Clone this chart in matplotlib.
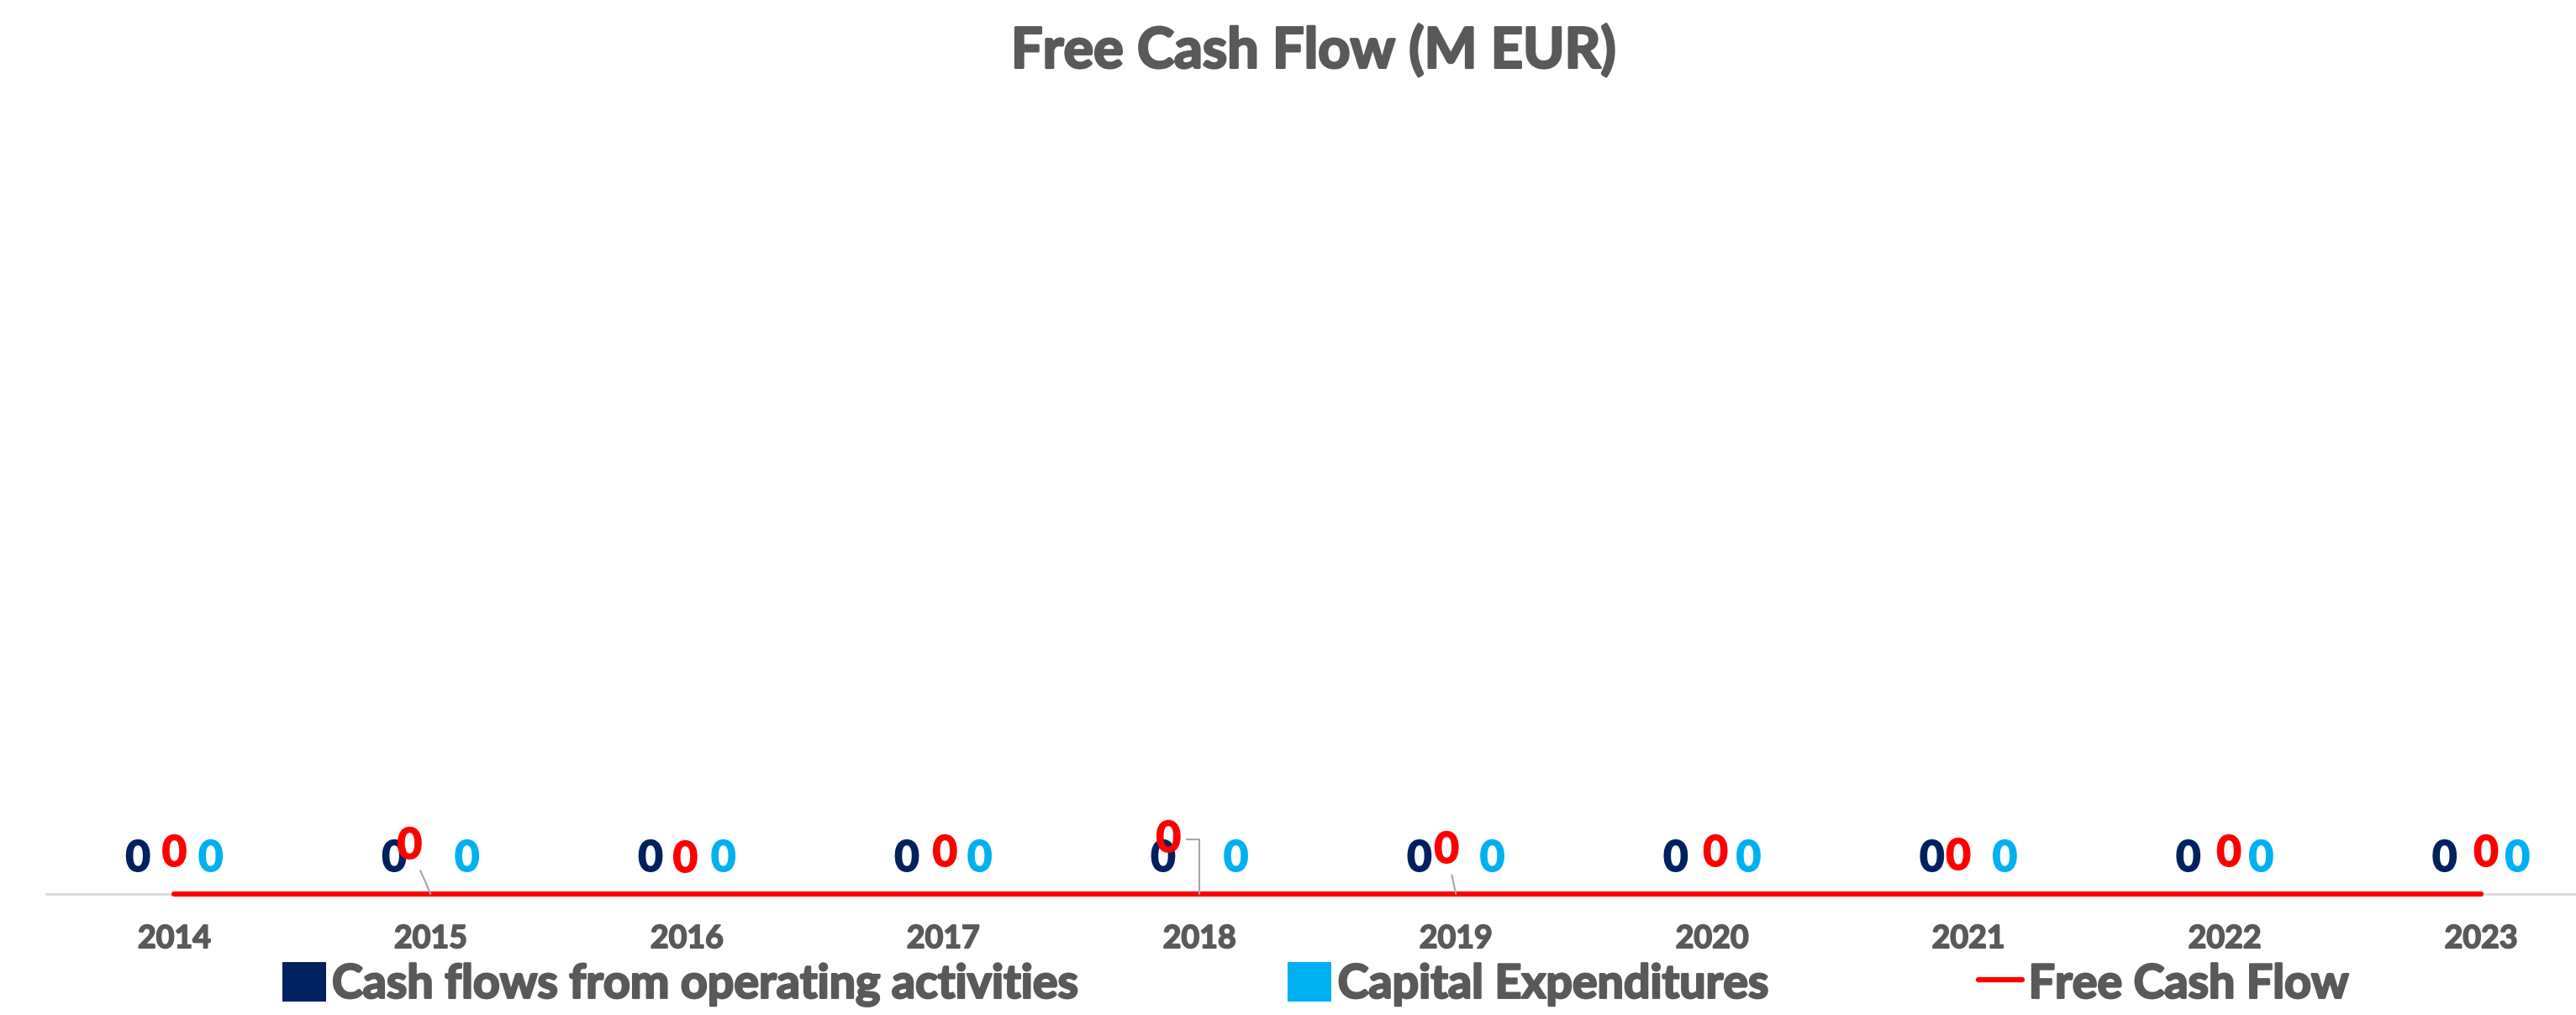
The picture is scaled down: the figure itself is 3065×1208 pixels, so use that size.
import numpy as np
import matplotlib
matplotlib.use('Agg')
import matplotlib.pyplot as plt
import matplotlib.patheffects as pe

plt.rcParams['font.family'] = ['Lato', 'DejaVu Sans']

# data (all values are zero in the source chart)
years = ['2014', '2015', '2016', '2017', '2018', '2019', '2020', '2021', '2022', '2023']
cfo = [0, 0, 0, 0, 0, 0, 0, 0, 0, 0]
capex = [0, 0, 0, 0, 0, 0, 0, 0, 0, 0]
fcf = [0, 0, 0, 0, 0, 0, 0, 0, 0, 0]

# label placement of the FCF data labels (px: dx, dy above axis) and leader lines
fcf_lbl_dx = [0, -25, -2, 2, -37, -11, 4, -12, 5, 6]
fcf_lbl_dy = [48, 57, 41, 48, 65, 52, 48, 44, 48, 48]
fcf_leader = [False, True, False, False, True, True, False, False, False, False]

navy = '#002060'
sky = '#00B0F0'
red = '#FF0000'
grey_txt = '#595959'
wt = 'bold'


def thick(c, w=1.6):
    # make the bold text a bit heavier, like the original's font
    return [pe.withStroke(linewidth=w, foreground=c)]


W, H = 3065, 1208
fig = plt.figure(figsize=(W / 100, H / 100), dpi=100)
ax = fig.add_axes([55 / W, 1 - 1064 / H, 3010 / W, 0.75])

x = np.arange(len(years))
bw = 0.28
b1 = ax.bar(x - 0.142, cfo, width=bw, color=navy, label='Cash flows from operating activities')
b2 = ax.bar(x + 0.142, capex, width=bw, color=sky, label='Capital Expenditures')
ln, = ax.plot(x, fcf, color=red, lw=4.5, solid_capstyle='round', zorder=5, clip_on=False,
              label='Free Cash Flow')

px = 0.72  # pixels -> points at 100 dpi
for i in range(len(years)):
    ax.annotate(str(cfo[i]), (x[i] - 0.142, cfo[i]), xytext=(0, 42 * px), textcoords='offset points',
                ha='center', va='center', fontsize=36, color=navy, fontweight=wt, zorder=6,
                path_effects=thick(navy))
    ax.annotate(str(capex[i]), (x[i] + 0.142, capex[i]), xytext=(0, 42 * px), textcoords='offset points',
                ha='center', va='center', fontsize=36, color=sky, fontweight=wt, zorder=6,
                path_effects=thick(sky))
    ap = None
    if fcf_leader[i]:
        cs = 'angle,angleA=0,angleB=90,rad=0' if fcf_lbl_dx[i] < -30 else 'arc3'
        ap = dict(arrowstyle='-', color='#A6A6A6', lw=1.5, shrinkA=3, shrinkB=0, connectionstyle=cs)
    ax.annotate(str(fcf[i]), (x[i], fcf[i]), xytext=(fcf_lbl_dx[i] * px, fcf_lbl_dy[i] * px),
                textcoords='offset points', ha='center', va='center', fontsize=36, color=red,
                fontweight=wt, zorder=7, arrowprops=ap, path_effects=thick(red))

ax.set_xlim(-0.5, (W - 207) / 305)
ax.set_ylim(0, 1)
ax.set_xticks(x)
ax.set_xticklabels(years, fontsize=27, color=grey_txt, fontweight=wt)
for t in ax.get_xticklabels():
    t.set_path_effects(thick(grey_txt, 1.3))
ax.tick_params(axis='x', length=0, pad=26)
ax.set_yticks([])
for s in ['top', 'left', 'right']:
    ax.spines[s].set_visible(False)
ax.spines['bottom'].set_color('#D9D9D9')
ax.spines['bottom'].set_linewidth(2)

fig.text(1563 / W, 1 - 61 / H, 'Free Cash Flow (M EUR)', ha='center', va='center',
         fontsize=48, fontweight=wt, color=grey_txt, path_effects=thick(grey_txt, 2))

fs = 40
leg = fig.legend(handles=[b1, b2, ln], loc='center', bbox_to_anchor=(1565 / W, 1 - 1171 / H), ncol=3,
                 frameon=False, labelcolor=grey_txt, handlelength=0.94, handleheight=0.94,
                 handletextpad=0.13, columnspacing=4.5, borderpad=0, borderaxespad=0,
                 prop={'weight': wt, 'size': fs})
for t in leg.get_texts():
    t.set_path_effects(thick(grey_txt, 1.8))

fig.savefig('out.png', dpi=100)
